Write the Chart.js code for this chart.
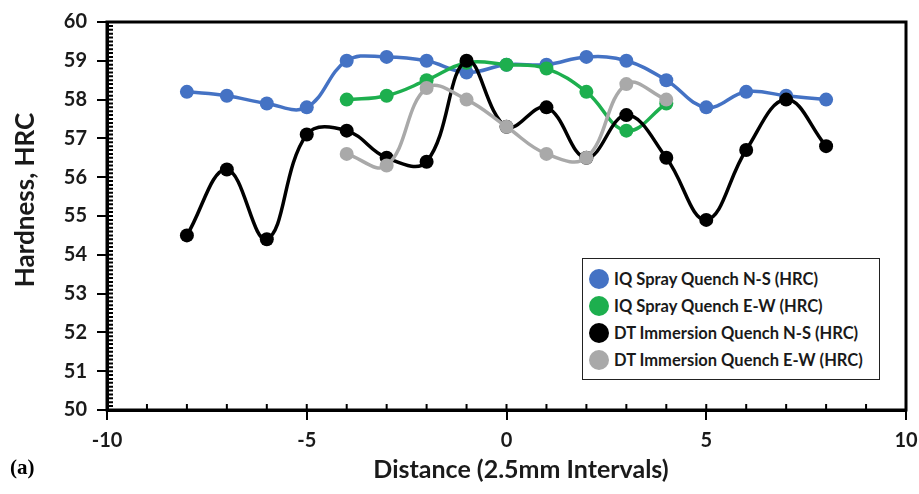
<!DOCTYPE html>
<html>
<head>
<meta charset="utf-8">
<script src="https://cdn.jsdelivr.net/npm/chart.js@4/dist/chart.umd.min.js"></script>
<style>
  html, body { margin: 0; padding: 0; background: #fff; }
  #wrap { position: relative; width: 919px; height: 494px; }
  #figLabel { position: absolute; left: 10px; top: 455px; font: bold 21px "Liberation Serif", serif; color: #000; }
  #xTitle {
    position: absolute; left: 521px; top: 468px; transform: translate(-50%, -50%);
    font: bold 25px Lato, sans-serif; color: #1a1a1a; white-space: nowrap;
  }
  #yTitle {
    position: absolute; left: 24px; top: 200px; transform: translate(-50%, -50%) rotate(-90deg);
    font: bold 26px Lato, sans-serif; color: #1a1a1a; white-space: nowrap;
  }
  #legendBox {
    position: absolute; left: 582px; top: 258px; width: 298px; height: 122px;
    border: 1.5px solid #222; background: #fff; box-sizing: border-box;
    padding: 6px 0 0 6px; font: bold 16.5px Lato, sans-serif; color: #1a1a1a;
  }
  .row { display: flex; align-items: center; height: 27px; }
  .dot { width: 20px; height: 20px; border-radius: 50%; margin-right: 5px; flex: none; }
</style>
</head>
<body>
<div id="wrap">
  <canvas id="hrcChart" width="919" height="494"></canvas>
  <div id="yTitle">Hardness, HRC</div>
  <div id="xTitle">Distance (2.5mm Intervals)</div>
  <div id="figLabel">(a)</div>
  <div id="legendBox"></div>
</div>
<script>
// --- Data ---
const distanceAll = [-8, -7, -6, -5, -4, -3, -2, -1, 0, 1, 2, 3, 4, 5, 6, 7, 8];
const distanceCenter = [-4, -3, -2, -1, 0, 1, 2, 3, 4];

const iqSprayNS = [58.2, 58.1, 57.9, 57.8, 59.0, 59.1, 59.0, 58.7, 58.9, 58.9, 59.1, 59.0, 58.5, 57.8, 58.2, 58.1, 58.0];
const iqSprayEW = [58.0, 58.1, 58.5, 58.95, 58.9, 58.8, 58.2, 57.2, 57.9];
const dtImmersionNS = [54.5, 56.2, 54.4, 57.1, 57.2, 56.5, 56.4, 59.0, 57.3, 57.8, 56.5, 57.6, 56.5, 54.9, 56.7, 58.0, 56.8];
const dtImmersionEW = [56.6, 56.3, 58.3, 58.0, 57.3, 56.6, 56.5, 58.4, 58.0];

const seriesLabels = [
  'IQ Spray Quench N-S (HRC)',
  'IQ Spray Quench E-W (HRC)',
  'DT Immersion Quench N-S (HRC)',
  'DT Immersion Quench E-W (HRC)'
];
const seriesColors = ['#4472C4', '#1DAF4E', '#000000', '#A9A9A9'];

const xTicks = [-10, -5, 0, 5, 10];
const yTicks = [50, 51, 52, 53, 54, 55, 56, 57, 58, 59, 60];

function toPoints(xs, ys) {
  return xs.map((x, i) => ({ x: x, y: ys[i] }));
}

// --- Frame + minor ticks drawn through the scales ---
const framePlugin = {
  id: 'framePlugin',
  beforeDatasetsDraw(chart) {
    const { ctx, chartArea, scales } = chart;
    ctx.save();
    ctx.strokeStyle = '#000';
    ctx.lineWidth = 3;
    ctx.strokeRect(chartArea.left, chartArea.top, chartArea.right - chartArea.left, chartArea.bottom - chartArea.top);

    ctx.lineWidth = 2;
    ctx.beginPath();
    // y minor ticks every 0.1, inside the plot
    for (let v = 500; v <= 600; v++) {
      const py = scales.y.getPixelForValue(v / 10);
      ctx.moveTo(chartArea.left, py);
      ctx.lineTo(chartArea.left + 6, py);
    }
    // x minor ticks every 1
    for (let v = -10; v <= 10; v++) {
      const px = scales.x.getPixelForValue(v);
      ctx.moveTo(px, chartArea.bottom);
      ctx.lineTo(px, chartArea.bottom - 6);
    }
    ctx.stroke();
    ctx.restore();
  }
};

const datasets = [
  { data: toPoints(distanceAll, iqSprayNS), order: 4 },
  { data: toPoints(distanceCenter, iqSprayEW), order: 3 },
  { data: toPoints(distanceAll, dtImmersionNS), order: 2 },
  { data: toPoints(distanceCenter, dtImmersionEW), order: 1 }
].map((d, i) => Object.assign(d, {
  label: seriesLabels[i],
  borderColor: seriesColors[i],
  backgroundColor: seriesColors[i],
  pointBackgroundColor: seriesColors[i],
  pointBorderColor: seriesColors[i],
  borderWidth: 3.5,
  pointRadius: 7,
  pointBorderWidth: 0,
  tension: 0.4,
  fill: false
}));

const tickFont = { family: 'Lato', size: 20, weight: 'bold' };

new Chart(document.getElementById('hrcChart').getContext('2d'), {
  type: 'line',
  data: { datasets: datasets },
  options: {
    responsive: false,
    animation: false,
    layout: { padding: { top: 17, right: 13, bottom: 13, left: 0 } },
    plugins: { legend: { display: false }, tooltip: { enabled: false } },
    scales: {
      x: {
        type: 'linear', min: -10, max: 10,
        afterBuildTicks: scale => { scale.ticks = xTicks.map(v => ({ value: v })); },
        afterFit: scale => { scale.height = 71; scale.paddingLeft = 0; scale.paddingRight = 0; },
        grid: { drawOnChartArea: false, tickLength: 10, color: '#000', lineWidth: 2 },
        border: { color: '#000', width: 3 },
        ticks: { color: '#1a1a1a', font: tickFont, padding: 9, maxRotation: 0 }
      },
      y: {
        min: 50, max: 60,
        afterBuildTicks: scale => { scale.ticks = yTicks.map(v => ({ value: v })); },
        afterFit: scale => { scale.width = 107; },
        grid: { drawOnChartArea: false, tickLength: 10, color: '#000', lineWidth: 2 },
        border: { color: '#000', width: 3 },
        ticks: { color: '#1a1a1a', font: tickFont, padding: 10 }
      }
    }
  },
  plugins: [framePlugin]
});

// --- HTML legend ---
const legendBox = document.getElementById('legendBox');
seriesLabels.forEach((label, i) => {
  const row = document.createElement('div');
  row.className = 'row';
  const dot = document.createElement('span');
  dot.className = 'dot';
  dot.style.background = seriesColors[i];
  const text = document.createElement('span');
  text.textContent = label;
  row.appendChild(dot);
  row.appendChild(text);
  legendBox.appendChild(row);
});
</script>
</body>
</html>
